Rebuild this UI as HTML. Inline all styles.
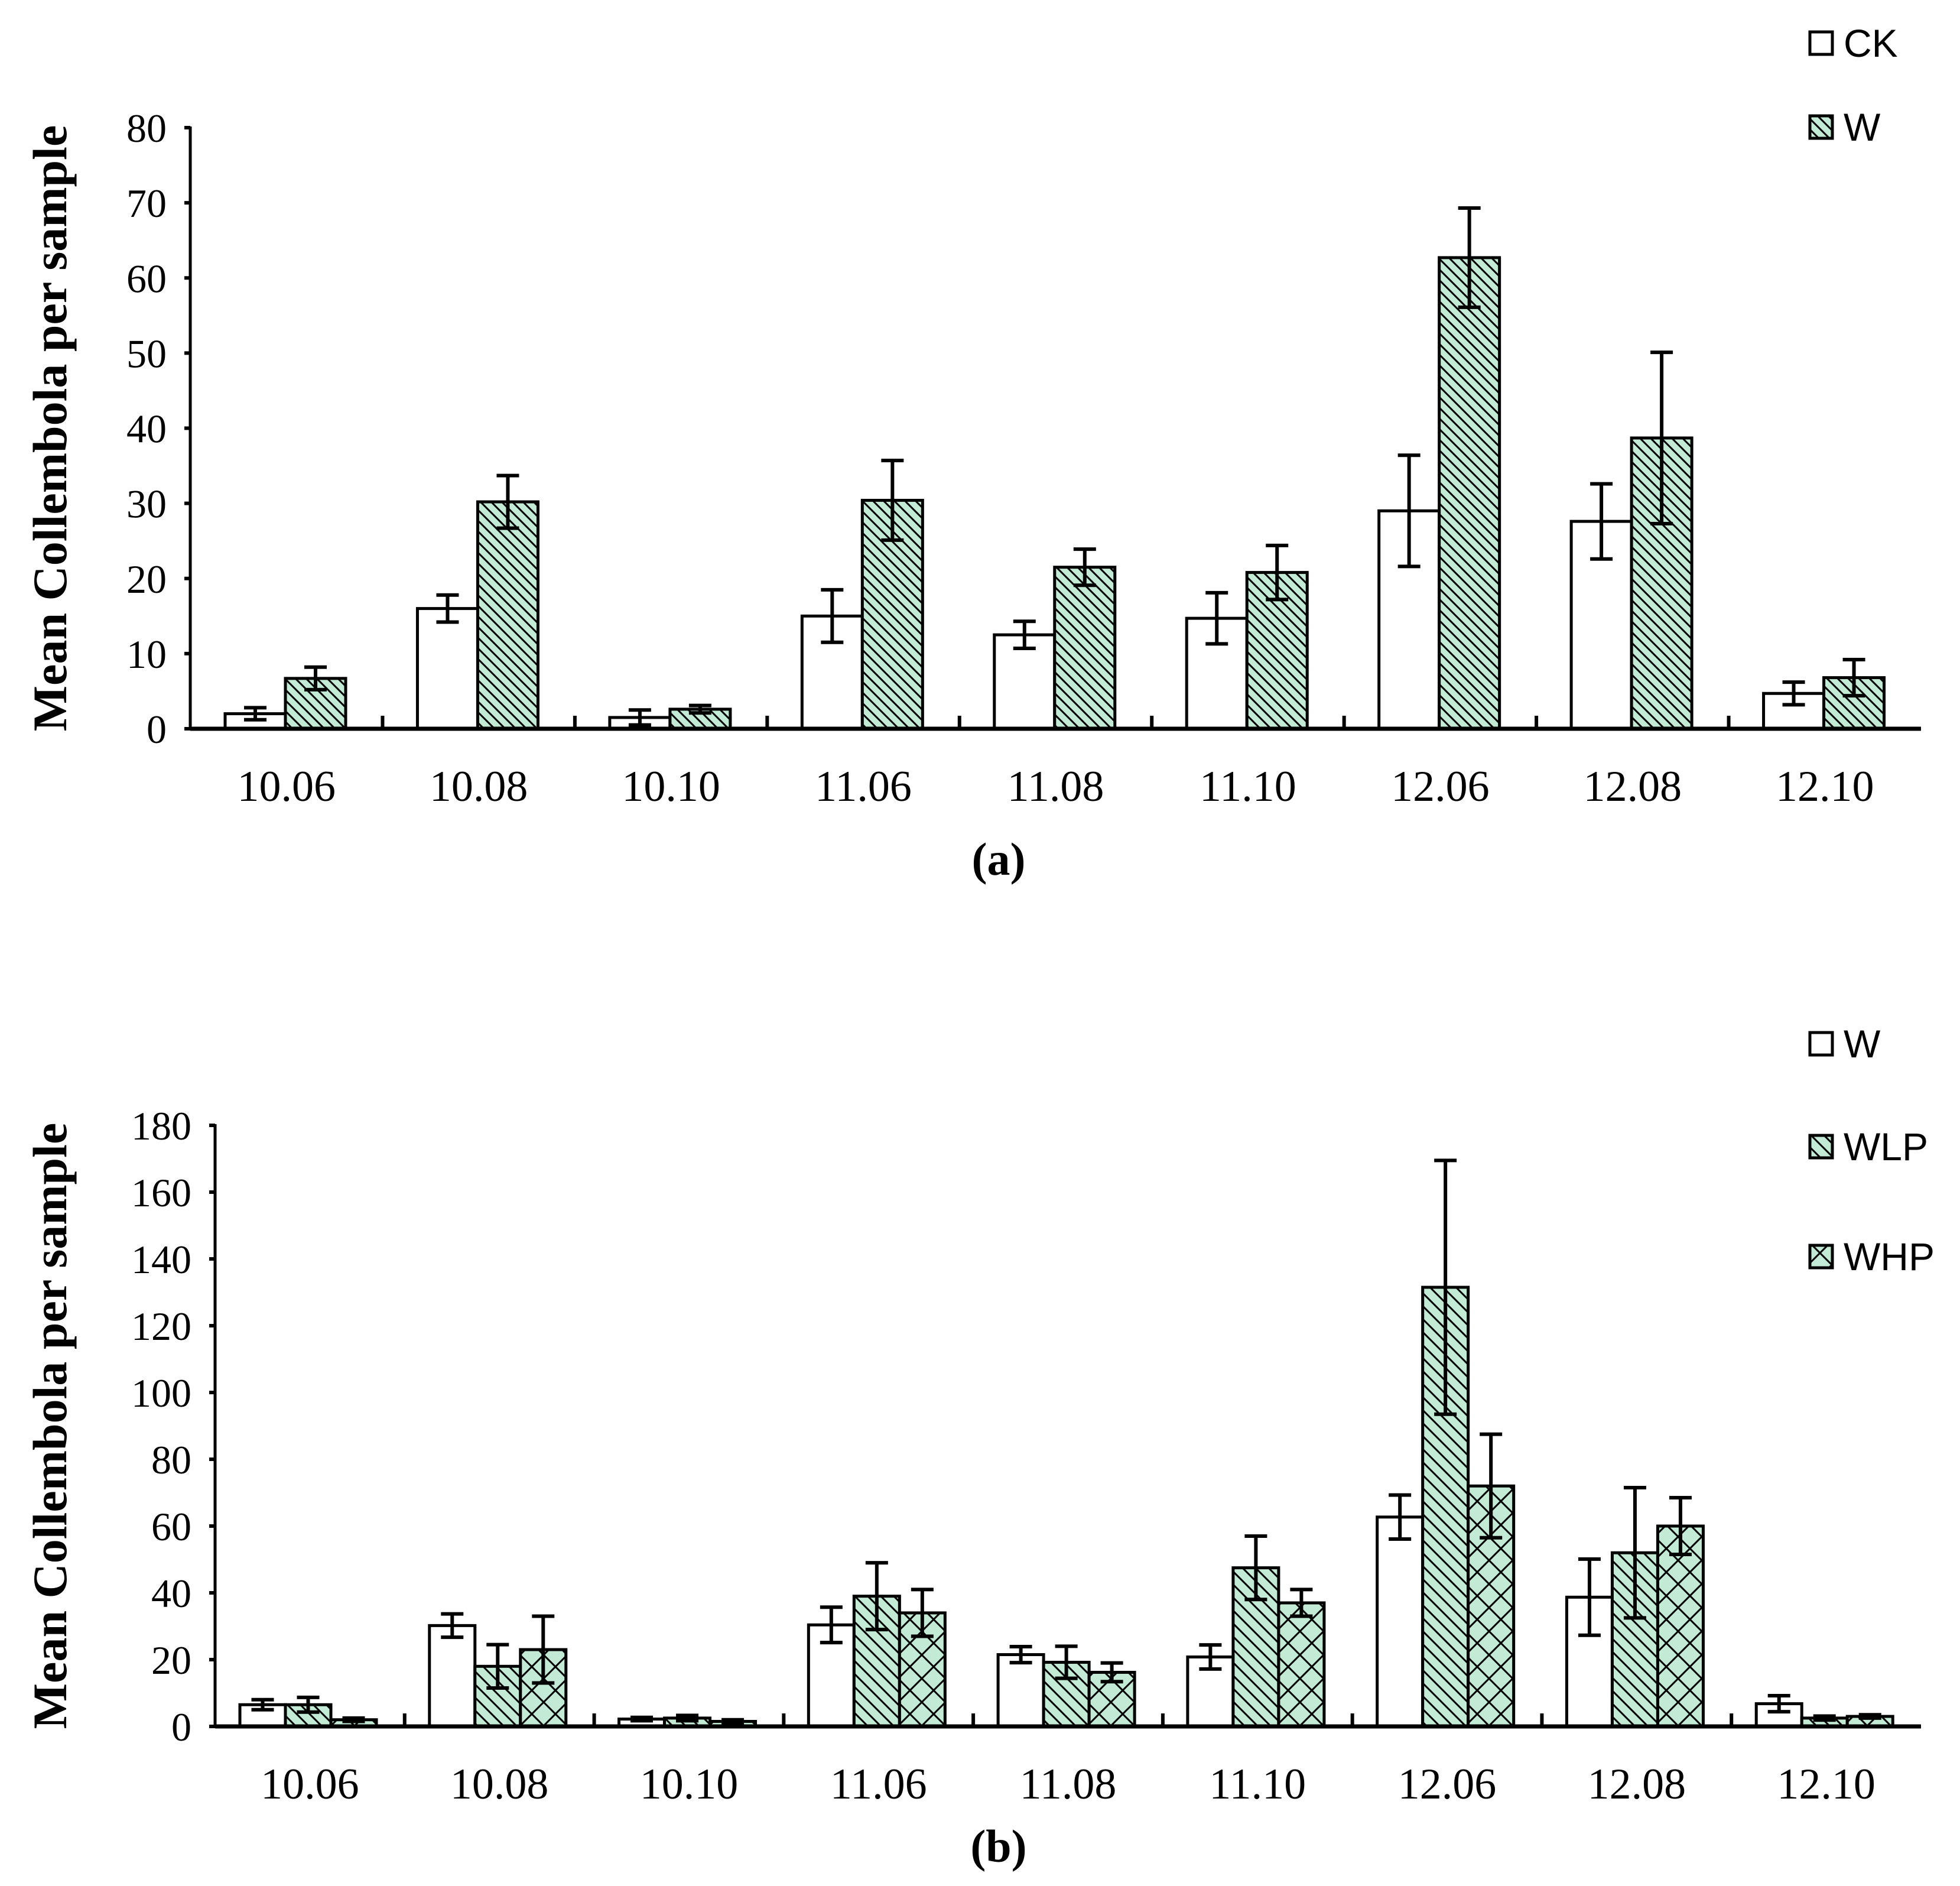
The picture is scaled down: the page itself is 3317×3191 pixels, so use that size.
<!DOCTYPE html>
<html><head><meta charset="utf-8"><style>
html,body{margin:0;padding:0;background:#fff;}
svg{display:block;}
</style></head><body>
<svg id="chart" xmlns="http://www.w3.org/2000/svg" width="3317" height="3191" viewBox="0 0 3317 3191">
<defs>
<pattern id="pDiag" patternUnits="userSpaceOnUse" width="18" height="18">
<rect width="18" height="18" fill="#c2ead5"/>
<path d="M-4,-4 L22,22 M-4,14 L4,22 M14,-4 L22,4" stroke="#000" stroke-width="3"/>
</pattern>
<pattern id="pDiag2" patternUnits="userSpaceOnUse" width="22" height="22">
<rect width="22" height="22" fill="#c2ead5"/>
<path d="M-5,-5 L27,27 M-5,17 L5,27 M17,-5 L27,5" stroke="#000" stroke-width="3"/>
</pattern>
<pattern id="pCross" patternUnits="userSpaceOnUse" width="40" height="40">
<rect width="40" height="40" fill="#c2ead5"/>
<path d="M0,0 L40,40 M40,0 L0,40" stroke="#000" stroke-width="3"/>
</pattern>
</defs>
<g id="root"></g>
</svg>
<script>
const categories = ["10.06","10.08","10.10","11.06","11.08","11.10","12.06","12.08","12.10"];
const aCK = [2, 16, 1.5, 15, 12.5, 14.7, 29, 27.6, 4.7];
const aCKerr = [0.8, 1.8, 1.0, 3.5, 1.8, 3.4, 7.4, 5.0, 1.5];
const aW = [6.7, 30.2, 2.6, 30.4, 21.5, 20.8, 62.7, 38.7, 6.8];
const aWerr = [1.5, 3.5, 0.5, 5.3, 2.4, 3.6, 6.6, 11.4, 2.4];
const aTicks = [0,10,20,30,40,50,60,70,80];
const bW = [6.5, 30.2, 2.2, 30.4, 21.5, 20.8, 62.7, 38.7, 6.8];
const bWerr = [1.5, 3.5, 0.5, 5.3, 2.4, 3.6, 6.6, 11.4, 2.4];
const bWLP = [6.5, 18, 2.5, 39, 19.2, 47.5, 131.5, 52, 2.5];
const bWLPerr = [2.2, 6.5, 0.8, 10, 4.8, 9.5, 38, 19.5, 0.6];
const bWHP = [2, 23, 1.5, 34, 16.2, 37, 72, 60, 3];
const bWHPerr = [0.5, 10, 0.5, 7, 2.8, 4, 15.5, 8.5, 0.5];
const bTicks = [0,20,40,60,80,100,120,140,160,180];

const NS = "http://www.w3.org/2000/svg";
const root = document.getElementById('root');
function mk(tag, attrs, parent, text){
  const e = document.createElementNS(NS, tag);
  for (const k in attrs) e.setAttribute(k, attrs[k]);
  if (text !== undefined) e.textContent = text;
  (parent || root).appendChild(e);
  return e;
}

function drawPanel(p){
  const g = mk('g', {});
  
  
  const y = v => p.y0 - (v / p.ymax) * (p.y0 - p.yTop);
  const catW = (p.xEnd - p.x0) / categories.length;
  const ya = mk('line', {x1:p.x0, y1:p.yTop-2, x2:p.x0, y2:p.y0, stroke:'#000','stroke-width':5}, g);
  
  
  p.ticks.forEach(t => {
    const tl = mk('line', {x1:p.x0-10, y1:y(t), x2:p.x0, y2:y(t), stroke:'#000','stroke-width':6}, g);
    
    
    const tx = mk('text', {x:p.x0-40, y:y(t)+24, 'text-anchor':'end','font-family':'Liberation Serif, serif','font-size':68}, g, String(t));
    
    
  });
  categories.forEach((c, i) => {
    const gx = p.x0 + i * catW + p.off;
    p.series.forEach((s, j) => {
      const x = gx + j * p.bw;
      const v = s.vals[i], e = s.err[i];
      const r = mk('rect', {x:x, y:y(v), width:p.bw, height:p.y0 - y(v), fill:s.fill, stroke:'#000','stroke-width':5}, g);
      
      
      const cx = x + p.bw/2;
      const eg = mk('path', {d:`M${cx},${y(v+e)} V${y(v-e)} M${cx-19},${y(v+e)} H${cx+19} M${cx-19},${y(v-e)} H${cx+19}`, stroke:'#000','stroke-width':6, fill:'none'}, g);
      
      
    });
    const lb = mk('text', {x:p.x0 + (i+0.5)*catW, y:p.y0+122, 'text-anchor':'middle','font-family':'Liberation Serif, serif','font-size':74}, g, c);
    
    
    if (i > 0) {
      const tk = mk('line', {x1:p.x0 + i*catW, y1:p.y0-22, x2:p.x0 + i*catW, y2:p.y0, stroke:'#000','stroke-width':6}, g);
      
      
    }
  });
  const xa = mk('line', {x1:p.x0, y1:p.y0, x2:p.xEnd, y2:p.y0, stroke:'#000','stroke-width':7}, g);
  
  
  const yt = mk('text', {x:0, y:0, transform:`translate(${p.titleX},${(p.yTop+p.y0)/2}) rotate(-90)`, 'text-anchor':'middle','font-family':'Liberation Serif, serif','font-size':82,'font-weight':'bold'}, g, 'Mean Collembola per sample');
  
  
  const cap = mk('text', {x:1690, y:p.capY, 'text-anchor':'middle','font-family':'Liberation Serif, serif','font-size':78,'font-weight':'bold'}, g, p.cap);
  
  
  p.series.forEach((s, j) => {
    const ly = p.legY[j];
    const lr = mk('rect', {x:3063, y:ly, width:38, height:38, fill:s.fill, stroke:'#000','stroke-width':5}, g);
    
    
    const lt = mk('text', {x:3120, y:ly+42, 'font-family':'Liberation Sans, sans-serif','font-size':66}, g, s.name);
    
    
  });
}

drawPanel({id:'panel-a', x0:322, xEnd:3251, y0:1233, yTop:216, ymax:80, ticks:aTicks, off:59, bw:102,
  titleX:112, cap:'(a)', capY:1480, legY:[54,196],
  series:[{name:'CK', vals:aCK, err:aCKerr, fill:'#fff'},{name:'W', vals:aW, err:aWerr, fill:'url(#pDiag)'}]});
drawPanel({id:'panel-b', x0:364, xEnd:3251, y0:2921, yTop:1904, ymax:180, ticks:bTicks, off:42, bw:77,
  titleX:112, cap:'(b)', capY:3150, legY:[1747,1921,2107],
  series:[{name:'W', vals:bW, err:bWerr, fill:'#fff'},{name:'WLP', vals:bWLP, err:bWLPerr, fill:'url(#pDiag2)'},{name:'WHP', vals:bWHP, err:bWHPerr, fill:'url(#pCross)'}]});
</script>
</body></html>
